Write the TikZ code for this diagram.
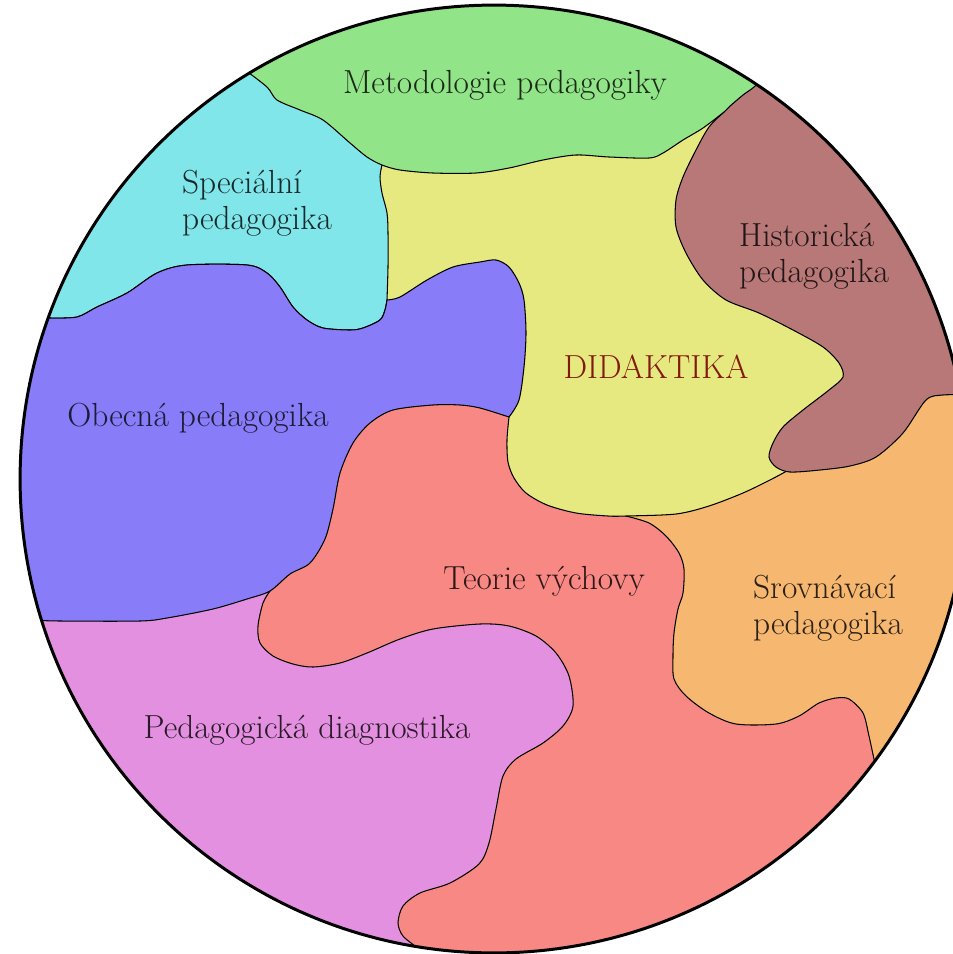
\documentclass[tikz,border=0pt]{standalone}
\usepackage{fontspec}
\usetikzlibrary{positioning}

\definecolor{metc}{RGB}{146,228,136}
\definecolor{specc}{RGB}{128,230,234}
\definecolor{didc}{RGB}{230,232,128}
\definecolor{histc}{RGB}{184,120,120}
\definecolor{obecc}{RGB}{136,124,248}
\definecolor{teorc}{RGB}{248,136,132}
\definecolor{srovc}{RGB}{246,184,112}
\definecolor{diagc}{RGB}{228,144,224}
\definecolor{didred}{RGB}{130,26,14}

\begin{document}
\begin{tikzpicture}[x=0.02cm, y=-0.02cm,
  region/.style={draw=black, line width=0.6pt},
  lbl/.style={font=\fontsize{19}{20.5}\selectfont, inner sep=0pt},
  rim/.style={draw=black, line width=1.7pt}]
\useasboundingbox (0,0) rectangle (953,954);
\begin{scope}
\clip (494,479) circle[radius=9.48cm];
\fill[teorc] (494,479) circle[radius=9.48cm];
\filldraw[fill=diagc, region] plot[smooth] coordinates {(270,591) (263,603) (258,626) (260,643) (273,656) (293,664) (313,667) (340,663) (367,653) (400,639) (433,629) (480,624) (509,626) (536,636) (556,653) (569,676) (573,706) (563,726) (543,743) (516,759) (503,776) (496,809) (489,843) (479,864) (450,883) (420,893) (403,906) (398,923) (403,936) (417,948) (425,960)}
  -- (425,1010) -- (-10,1010) -- (-10,600) -- (200,560) -- cycle;
\filldraw[fill=srovc, region] plot[smooth] coordinates {(626,516) (649,523) (666,536) (679,553) (684,569) (683,593) (678,609) (674,633) (673,656) (674,679) (686,696) (709,713) (736,724) (776,724) (799,716) (819,703) (836,698) (849,699) (863,713) (869,736) (874,759) (878,775)}
  -- (1010,800) -- (1010,380) -- (900,380) -- (700,460) -- cycle;
\filldraw[fill=didc, region] plot[smooth] coordinates {(509,417) (507,440) (508,462) (514,478) (526,493) (547,505) (576,513) (608,516) (626,516) (676,514) (709,506) (743,493) (770,480) (785,472)}
  -- (880,420) -- (880,300) -- (790,150) -- (730,80) -- (370,120) -- (370,290) -- (420,340) -- cycle;
\filldraw[fill=histc, region] (700,60) -- plot[smooth] coordinates {(724,112) (709,127) (696,150) (683,177) (676,200) (676,227) (686,253) (703,280) (726,300) (759,313) (793,330) (823,347) (839,363) (843,377) (829,390) (803,410) (783,427) (773,443) (769,457) (776,467) (790,472) (820,470) (850,466) (876,457) (903,433) (926,400) (943,395) (965,395)}
  -- (1010,395) -- (1010,-10) -- (700,-10) -- cycle;
\filldraw[fill=specc, region] (-10,318) -- plot[smooth] coordinates {(50,318) (77,317) (97,307) (127,293) (157,273) (187,265) (247,265) (267,273) (280,287) (293,307) (307,320) (323,328) (350,330) (363,328) (380,320) (385,310) (387,300)}
  -- plot[smooth] coordinates {(387,300) (388,267) (388,233) (387,213) (382,193) (380,177) (382,165)}
  -- (370,120) -- (250,40) -- (-10,40) -- cycle;
\filldraw[fill=metc, region] (200,-10) -- plot[smooth] coordinates {(245,70) (267,87) (277,100) (300,110) (323,120) (350,143) (367,157) (382,165) (400,170) (433,173) (476,173) (509,168) (543,160) (576,155) (609,157) (649,158) (663,153) (683,140) (703,128) (724,112) (729,107) (743,95) (754,87) (765,75)}
  -- (820,-10) -- cycle;
\filldraw[fill=obecc, region] (-10,318) -- plot[smooth] coordinates {(50,318) (77,317) (97,307) (127,293) (157,273) (187,265) (247,265) (267,273) (280,287) (293,307) (307,320) (323,328) (350,330) (363,328) (380,320) (385,310) (387,300)}
  -- plot[smooth] coordinates {(387,300) (400,297) (427,280) (453,267) (480,262) (496,260) (509,267) (519,283) (524,300) (526,333) (524,367) (519,400) (509,417)}
  -- plot[smooth] coordinates {(509,417) (480,408) (460,405) (433,405) (393,410) (370,423) (353,443) (340,473) (333,509) (325,539) (310,563) (290,574) (270,591) (247,599) (213,609) (167,618) (140,621) (60,621) (30,620)}
  -- (-10,620) -- cycle;
\end{scope}
\draw[rim] (494,479) circle[radius=9.48cm];

\node[lbl, text=metc!18!black] (metod) at (505,85) {Metodologie pedagogiky};
\node[lbl, align=left, text=specc!18!black] (spec) at (257,203) {Speciální\\pedagogika};
\node[lbl, align=left, text=histc!18!black] (hist) at (814,256) {Historická\\pedagogika};
\node[lbl, text=didred] (didak) at (656,367) {DIDAKTIKA};
\node[lbl, text=obecc!22!black] (obec) at (198,418) {Obecná pedagogika};
\node[lbl, text=teorc!18!black] (teorie) at (544,581) {Teorie výchovy};
\node[lbl, align=left, text=srovc!18!black] (srov) at (828,608) {Srovnávací\\pedagogika};
\node[lbl, text=diagc!18!black] (diag) at (307,730) {Pedagogická diagnostika};
\end{tikzpicture}
\end{document}
